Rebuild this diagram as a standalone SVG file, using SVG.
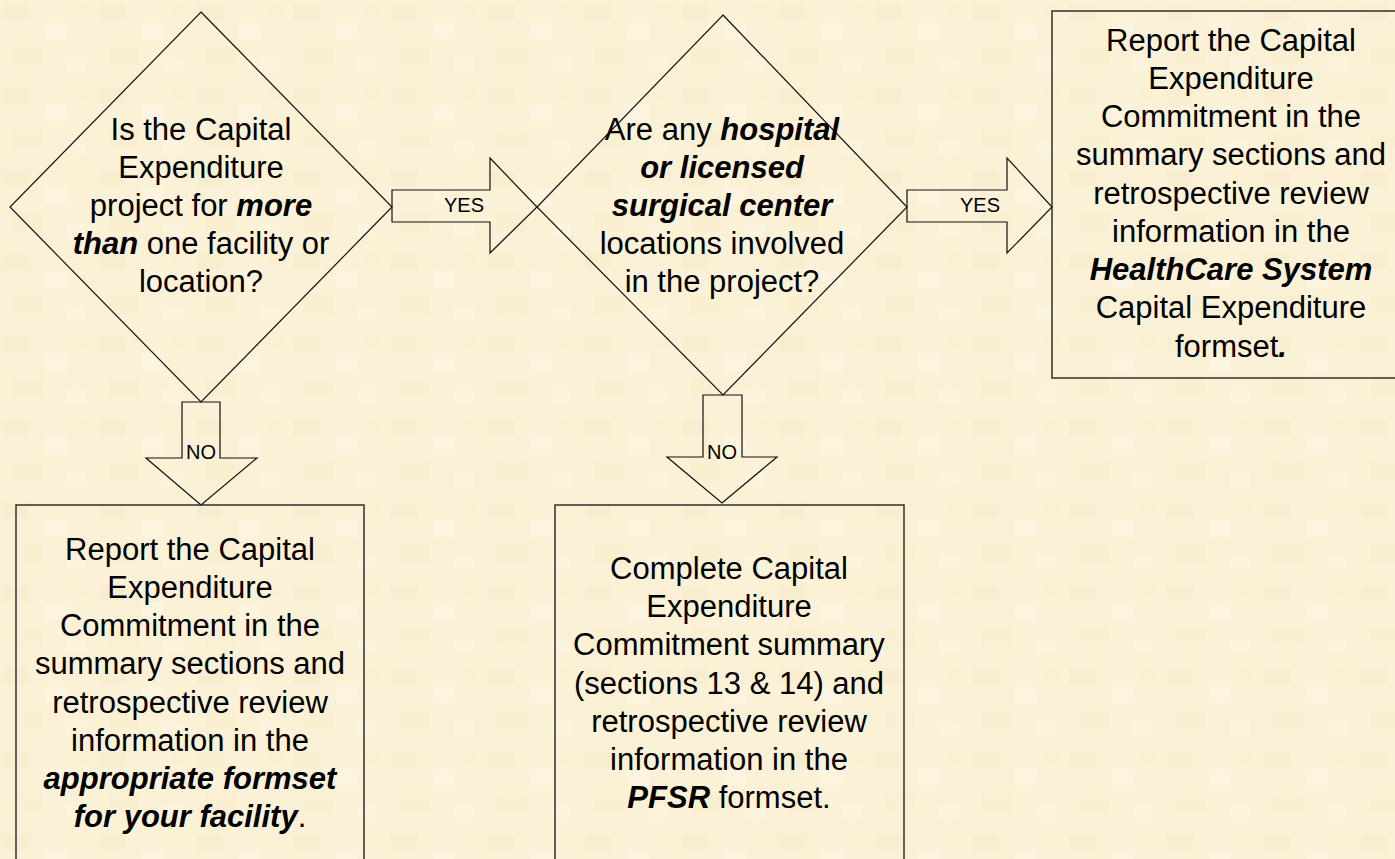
<svg xmlns="http://www.w3.org/2000/svg" width="1395" height="859" viewBox="0 0 1395 859">
<defs>
<pattern id="tex" width="97" height="83" patternUnits="userSpaceOnUse">
<rect width="97" height="83" fill="#FBF1D6"/>
<rect x="3" y="5" width="26" height="15" fill="#F7EACA" opacity="0.5"/>
<rect x="45" y="22" width="22" height="17" fill="#FDF6E3" opacity="0.6"/>
<rect x="12" y="47" width="30" height="18" fill="#F8EBCB" opacity="0.4"/>
<rect x="66" y="58" width="20" height="13" fill="#FDF5E1" opacity="0.5"/>
<rect x="74" y="4" width="15" height="12" fill="#F9EDCF" opacity="0.4"/>
</pattern>
<style>
.s{fill:none;stroke:#111;stroke-width:1.2}
.b{fill:none;stroke:#222;stroke-width:1.4}
.t{font-family:"Liberation Sans",Arial,sans-serif;font-size:31px;fill:#000;text-anchor:middle}
.l{font-family:"Liberation Sans",Arial,sans-serif;font-size:20px;fill:#000;text-anchor:middle}
.e{font-weight:bold;font-style:italic}
</style>
</defs>
<rect width="1395" height="859" fill="url(#tex)"/>
<g id="connectors">
<path class="s" d="M392,190 H490 V158 L537,207 L490,253 V222 H392 Z"/>
<text class="l" x="464" y="212">YES</text>
<path class="s" d="M907,190 H1007 V158 L1052,207 L1007,253 V222 H907 Z"/>
<text class="l" x="980" y="212">YES</text>
<path class="s" d="M182,402 H220 V458 H257 L201,505 L146,458 H182 Z"/>
<text class="l" x="201" y="459">NO</text>
<path class="s" d="M703,395 H742 V457 H777 L722,503 L667,457 H703 Z"/>
<text class="l" x="722" y="459">NO</text>
</g>
<g id="d1">
<path class="s" d="M201,12 L392,207 L201,402 L10,207 Z"/>
<text class="t" x="201" y="140">Is the Capital</text>
<text class="t" x="201" y="178">Expenditure</text>
<text class="t" x="201" y="216">project for <tspan class="e">more</tspan></text>
<text class="t" x="201" y="254"><tspan class="e">than</tspan> one facility or</text>
<text class="t" x="201" y="292">location?</text>
</g>
<g id="d2">
<path class="s" d="M723,15 L907,207 L723,395 L537,207 Z"/>
<text class="t" x="722" y="140">Are any <tspan class="e">hospital</tspan></text>
<text class="t" x="722" y="178" font-weight="bold" font-style="italic">or licensed</text>
<text class="t" x="722" y="216" font-weight="bold" font-style="italic">surgical center</text>
<text class="t" x="722" y="254">locations involved</text>
<text class="t" x="722" y="292">in the project?</text>
</g>
<g id="b3">
<rect class="b" x="1052" y="11" width="360" height="367"/>
<text class="t" x="1231" y="51">Report the Capital</text>
<text class="t" x="1231" y="89">Expenditure</text>
<text class="t" x="1231" y="127">Commitment in the</text>
<text class="t" x="1231" y="165">summary sections and</text>
<text class="t" x="1231" y="204">retrospective review</text>
<text class="t" x="1231" y="242">information in the</text>
<text class="t" x="1231" y="280" font-weight="bold" font-style="italic">HealthCare System</text>
<text class="t" x="1231" y="318">Capital Expenditure</text>
<text class="t" x="1231" y="357">formset<tspan class="e">.</tspan></text>
</g>
<g id="b1">
<rect class="b" x="16" y="505" width="348" height="380"/>
<text class="t" x="190" y="560">Report the Capital</text>
<text class="t" x="190" y="598">Expenditure</text>
<text class="t" x="190" y="636">Commitment in the</text>
<text class="t" x="190" y="674">summary sections and</text>
<text class="t" x="190" y="713">retrospective review</text>
<text class="t" x="190" y="751">information in the</text>
<text class="t" x="190" y="789" font-weight="bold" font-style="italic">appropriate formset</text>
<text class="t" x="190" y="827"><tspan class="e">for your facility</tspan>.</text>
</g>
<g id="b2">
<rect class="b" x="555" y="505" width="349" height="380"/>
<text class="t" x="729" y="579">Complete Capital</text>
<text class="t" x="729" y="617">Expenditure</text>
<text class="t" x="729" y="655">Commitment summary</text>
<text class="t" x="729" y="694">(sections 13 &amp; 14) and</text>
<text class="t" x="729" y="732">retrospective review</text>
<text class="t" x="729" y="770">information in the</text>
<text class="t" x="729" y="808"><tspan class="e">PFSR</tspan> formset.</text>
</g>
</svg>
